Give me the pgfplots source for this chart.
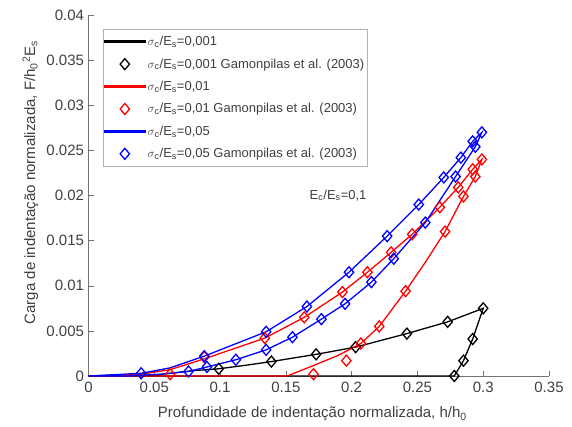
\documentclass[border=0pt]{standalone}
\usepackage{pgfplots}
\pgfplotsset{compat=1.18}
\usepackage{fontspec}
\setmainfont{Liberation Sans}

\definecolor{txt}{gray}{0.25}
\definecolor{axl}{gray}{0.45}

% MATLAB-like diamond, a bit wider than pgf's
\pgfdeclareplotmark{mdiamond}{%
  \pgfpathmoveto{\pgfqpoint{0pt}{\pgfplotmarksize}}%
  \pgfpathlineto{\pgfqpoint{.85\pgfplotmarksize}{0pt}}%
  \pgfpathlineto{\pgfqpoint{0pt}{-\pgfplotmarksize}}%
  \pgfpathlineto{\pgfqpoint{-.85\pgfplotmarksize}{0pt}}%
  \pgfpathclose
  \pgfusepathqstroke}

\pgfplotsset{
  model/.style={#1, no marks, line width=1.3pt,
    legend image code/.code={\fill[#1] (0pt,-0.7pt) rectangle (40pt,0.7pt);}},
  gamon/.style={#1, only marks, mark=mdiamond, mark size=5.5pt, line width=1.3pt,
    legend image code/.code={\draw[#1, line width=1.3pt] plot[only marks, mark=mdiamond, mark size=5.5pt] coordinates {(20pt,0pt)};}},
}

% model curves (loading + unloading)
\pgfplotstableread{
x y
0 0
0.05 0.0001
0.08 0.0006
0.099 0.0008
0.12 0.0012
0.139 0.0016
0.173 0.0024
0.203 0.0032
0.242 0.0047
0.273 0.0060
0.300 0.0075
0.292 0.0041
0.285 0.0017
0.278 0
0 0
}\blackmodel

\pgfplotstableread{
x y
0 0
0.04 0.0002
0.062 0.0007
0.088 0.0019
0.134 0.0042
0.164 0.0065
0.193 0.0093
0.212 0.0115
0.230 0.0137
0.246 0.0157
0.267 0.0187
0.281 0.0209
0.292 0.0229
0.299 0.0240
0.294 0.0221
0.285 0.0199
0.271 0.0160
0.256 0.0126
0.241 0.0094
0.221 0.0055
0.207 0.0036
0.190 0.0023
0.170 0.0011
0.151 0
0 0
}\redmodel

\pgfplotstableread{
x y
0 0
0.040 0.0003
0.062 0.0009
0.088 0.0022
0.135 0.0049
0.166 0.0077
0.198 0.0115
0.227 0.0155
0.251 0.0190
0.270 0.0220
0.283 0.0242
0.292 0.0260
0.299 0.0270
0.294 0.0254
0.279 0.0221
0.256 0.0170
0.232 0.0130
0.215 0.0104
0.195 0.0080
0.177 0.0063
0.155 0.0043
0.135 0.0029
0.112 0.0018
0.090 0.0010
0.076 0.0005
0.055 0.0002
0.030 0
0 0
}\bluemodel

% Gamonpilas et al. (2003)
\pgfplotstableread{
x y
0.099 0.0008
0.139 0.0016
0.173 0.0024
0.203 0.0032
0.242 0.0047
0.273 0.0060
0.300 0.0075
0.292 0.0041
0.285 0.0017
0.278 0
}\blackref

\pgfplotstableread{
x y
0.062 0.0002
0.088 0.0021
0.134 0.0042
0.164 0.0065
0.193 0.0093
0.212 0.0115
0.230 0.0137
0.246 0.0157
0.267 0.0187
0.281 0.0209
0.292 0.0229
0.299 0.0240
0.294 0.0221
0.285 0.0199
0.271 0.0160
0.241 0.0094
0.221 0.0055
0.207 0.0036
0.196 0.0017
0.171 0.0002
}\redref

\pgfplotstableread{
x y
0.040 0.0003
0.088 0.0022
0.135 0.0049
0.166 0.0077
0.198 0.0115
0.227 0.0155
0.251 0.0190
0.270 0.0220
0.283 0.0242
0.292 0.0260
0.299 0.0270
0.294 0.0254
0.279 0.0221
0.256 0.0170
0.232 0.0130
0.215 0.0104
0.195 0.0080
0.177 0.0063
0.155 0.0043
0.135 0.0029
0.112 0.0018
0.090 0.0010
0.076 0.0005
}\blueref

\begin{document}
\begin{tikzpicture}
\begin{axis}[
    scale only axis,
    width=460.5pt,
    height=361pt,
    xmin=0, xmax=0.35,
    ymin=0, ymax=0.04,
    xtick={0,0.05,...,0.35},
    ytick={0,0.005,...,0.04},
    axis x line*=bottom,
    axis y line*=left,
    axis line style={draw=axl, line width=0.5pt},
    major tick style={draw=axl, line width=0.5pt},
    major tick length=5pt,
    tick align=inside,
    scaled x ticks=false,
    scaled y ticks=false,
    /pgf/number format/fixed,
    /pgf/number format/precision=3,
    /pgf/number format/assume math mode=true,
    ticklabel style={font=\fontsize{15}{17}\selectfont, text=txt},
    xticklabel style={yshift=-2pt},
    yticklabel style={xshift=-1pt},
    xlabel={Profundidade de indentação normalizada, h/h\textsubscript{0}},
    ylabel={Carga de indentação normalizada, F/h\textsubscript{0}\textsuperscript{2}E\textsubscript{s}},
    label style={font=\fontsize{15}{17}\selectfont, text=txt},
    xlabel style={at={(axis description cs:0.486,-0.116)}, anchor=base},
    ylabel style={at={(axis description cs:-0.126,0.536)}, anchor=center},
    legend style={at={(axis description cs:0.0315,0.961)}, anchor=north west,
        draw=gray!60, fill=white,
        font=\fontsize{13}{15}\selectfont, text=txt,
        inner xsep=1pt, inner ysep=5pt, row sep=7.5pt},
    legend cell align=left,
    clip=false,
]
\addplot[model=black] table[x=x,y=y] {\blackmodel};
\addlegendentry{$\sigma$\textsubscript{c}/E\textsubscript{s}=0,001}
\addplot[gamon=black] table[x=x,y=y] {\blackref};
\addlegendentry{$\sigma$\textsubscript{c}/E\textsubscript{s}=0,001 Gamonpilas et al. (2003)}
\addplot[model=red] table[x=x,y=y] {\redmodel};
\addlegendentry{$\sigma$\textsubscript{c}/E\textsubscript{s}=0,01}
\addplot[gamon=red] table[x=x,y=y] {\redref};
\addlegendentry{$\sigma$\textsubscript{c}/E\textsubscript{s}=0,01 Gamonpilas et al. (2003)}
\addplot[model=blue] table[x=x,y=y] {\bluemodel};
\addlegendentry{$\sigma$\textsubscript{c}/E\textsubscript{s}=0,05}
\addplot[gamon=blue] table[x=x,y=y] {\blueref};
\addlegendentry{$\sigma$\textsubscript{c}/E\textsubscript{s}=0,05 Gamonpilas et al. (2003)}
\node[anchor=base west, text=txt, font=\fontsize{13}{15}\selectfont, inner sep=0pt]
    at (axis cs:0.168,0.0196) {E\textsubscript{c}/E\textsubscript{s}=0,1};
\end{axis}
\pgfresetboundingbox
\path ([xshift=-88.5pt,yshift=-50pt]current axis.south west)
      rectangle ([xshift=23pt,yshift=15pt]current axis.north east);
\end{tikzpicture}
\end{document}
